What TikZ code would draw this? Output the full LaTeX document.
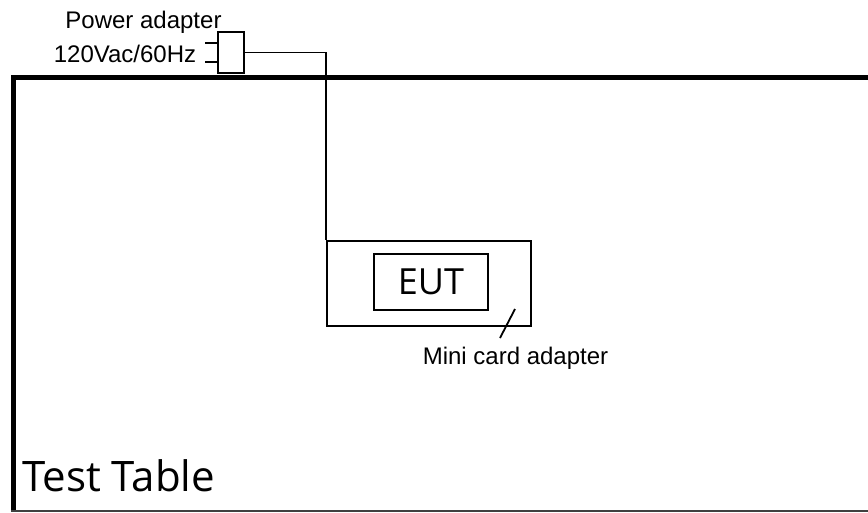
\documentclass[tikz,border=0pt]{standalone}
\usepackage{fontspec}
\setmainfont{Liberation Sans}
\newfontfamily\uifont{Open Sans}

\begin{document}
\begin{tikzpicture}[x=1pt, y=-1pt,
  wire/.style={line width=1.8pt},
  box/.style={draw, line width=1.8pt, inner sep=0pt},
  lbl/.style={font=\fontsize{24}{28}\selectfont, inner sep=0pt}]
  \useasboundingbox (0,0) rectangle (868,512);

  % test table
  \draw[line width=5pt] (868,77) -- (13.5,77) -- (13.5,512);
  \draw[line width=2pt, black!75] (11,511) -- (868,511);
  \node[font=\uifont\fontsize{42}{48}\selectfont, inner sep=0pt, anchor=base west] (table) at (22,491) {Test Table};

  % power adapter
  \node[box, minimum width=26pt, minimum height=41pt] (plug) at (231,52.5) {};
  \coordinate (pin1) at (205,43);
  \coordinate (pin2) at (205,62);
  \draw[wire] (pin1) -- (pin1 -| plug.west);
  \draw[wire] (pin2) -- (pin2 -| plug.west);
  \node[lbl, anchor=base] (pwr) at (143.5,28) {Power adapter};
  \node[lbl, anchor=base] (volt) at (125,62) {120Vac/60Hz};

  % mini card adapter with EUT
  \node[box, minimum width=204pt, minimum height=85pt] (card) at (429,283.5) {};
  \node[box, minimum width=114pt, minimum height=56pt,
        font=\uifont\fontsize{36}{42}\selectfont] (eut) at (431,282) {EUT};
  \node[lbl, anchor=base] (cardlbl) at (515.5,364) {Mini card adapter};
  \coordinate (tick) at (515,309);
  \coordinate (tickend) at (500,338);
  \draw[wire] (tick) -- (tickend);

  % cable
  \draw[wire] (plug.east) -| (card.north west);
\end{tikzpicture}
\end{document}
